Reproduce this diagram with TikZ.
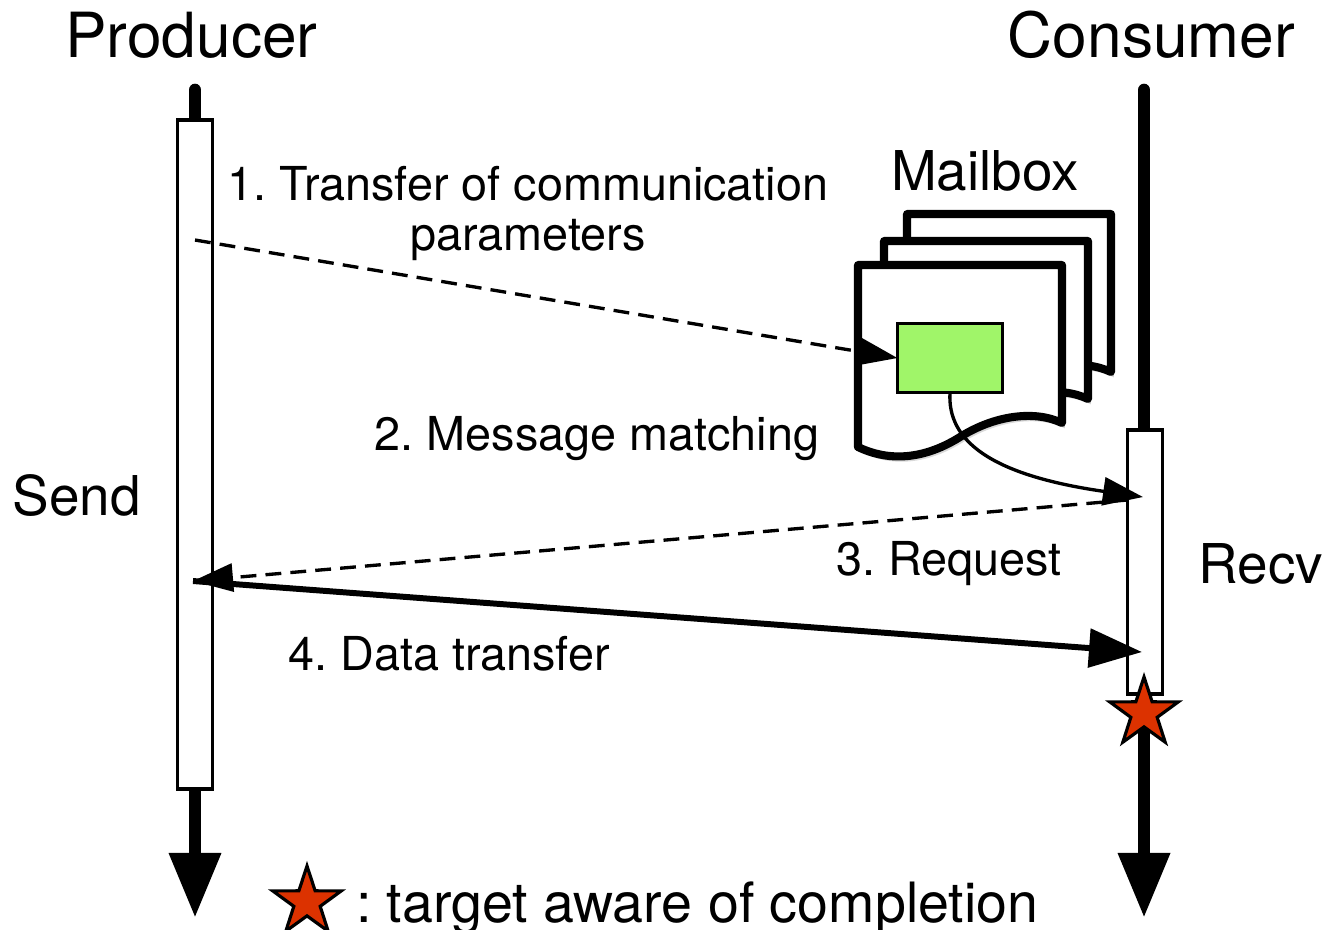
\documentclass[tikz,border=0pt]{standalone}
\usepackage{fontspec}
\setmainfont{TeX Gyre Heros}
\usepackage{xcolor}
\usetikzlibrary{arrows.meta,shapes.geometric,shadows}
\definecolor{msggreen}{RGB}{160,245,105}
\definecolor{starred}{RGB}{220,50,0}
\frenchspacing
\begin{document}
\begin{tikzpicture}[x=0.01cm, y=-0.01cm,
    every node/.style={inner sep=0pt, outer sep=0pt},
    lifeline/.style={line width=3.6pt, line cap=round, -{Triangle[length=0.65cm, width=0.49cm]}},
    bar/.style={draw, fill=white, line width=1.1pt, minimum width=0.35cm},
    page/.style={draw, fill=white, line width=2.3pt, line join=round,
        drop shadow={opacity=0.3, shadow xshift=0.8pt, shadow yshift=-1.5pt}},
    msgarrow/.style={line width=0.95pt, -{Triangle[length=0.4cm, width=0.28cm]}},
    dasharrow/.style={msgarrow, dash pattern=on 4.5pt off 2.6pt},
    datarrow/.style={line width=1.7pt, -{Triangle[length=0.53cm, width=0.38cm]}},
    done/.style={star, star points=5, star point ratio=2.6, draw, fill=starred, line width=0.9pt, minimum size=0.72cm},
    title/.style={font=\fontsize{17.7}{21}\selectfont, anchor=base},
    side/.style={font=\fontsize{15.6}{18}\selectfont, anchor=base},
    steplabel/.style={font=\fontsize{13.3}{14.2}\selectfont, anchor=base}]
    \useasboundingbox (0,0) rectangle (1325,929);

    \coordinate (ptop) at (195,90);
    \coordinate (pend) at (195,918);
    \coordinate (ctop) at (1144,90);
    \coordinate (cend) at (1144,918);
    \draw[lifeline] (ptop) -- (pend);
    \draw[lifeline] (ctop) -- (cend);
    \node[bar, minimum height=6.69cm] (sendbar) at (195,454.5) {};
    \node[bar, minimum height=2.64cm] (recvbar) at (1145,562) {};

    \draw[page, shift={(49,-51)}] (858,265) -- (1062,265) -- (1062,423) .. controls (1035,410) and (995,415) .. (960,437) .. controls (920,462) and (885,460) .. (858,447) -- cycle;
    \draw[page, shift={(26,-24)}] (858,265) -- (1062,265) -- (1062,423) .. controls (1035,410) and (995,415) .. (960,437) .. controls (920,462) and (885,460) .. (858,447) -- cycle;
    \draw[page] (858,265) -- (1062,265) -- (1062,423) .. controls (1035,410) and (995,415) .. (960,437) .. controls (920,462) and (885,460) .. (858,447) -- cycle;
    \node[draw, fill=msggreen, line width=0.9pt, minimum width=1.05cm, minimum height=0.69cm] (msg) at (950,358) {};

    \coordinate (s1) at (195,240);
    \coordinate (s3) at (193,581);
    \coordinate (r2) at (1143,497);
    \coordinate (r3) at (1127,500);
    \coordinate (r4) at (1142,652);
    \draw[dasharrow] (s1) -- (msg.west);
    \draw[msgarrow] (msg.south) .. controls +(-3,48) and +(-153,-22) .. (r2);
    \draw[dasharrow] (r3) -- (s3);
    \draw[datarrow] (s3) -- (r4);

    \node[done] (recvdone) at (1144,713) {};

    \node[title] (producer) at (191.5,57) {Producer};
    \node[title] (consumer) at (1151.5,57) {Consumer};
    \node[side] (mailbox) at (985,190) {Mailbox};
    \node[side] (send) at (76.5,515) {Send};
    \node[side] (recv) at (1261,583) {Recv};
    \node[steplabel, anchor=center, align=center] (xfer) at (528,213) {1. Transfer of communication\\parameters};
    \node[steplabel] (match) at (597,450) {2. Message matching};
    \node[steplabel] (request) at (949,575) {3. Request};
    \node[steplabel] (data) at (449,670) {4. Data transfer};

    \node[done] (keystar) at (307,902) {};
    \node[font=\fontsize{15.8}{18}\selectfont, anchor=base west] (keytext) at (356,922) {: target aware of completion};
\end{tikzpicture}
\end{document}
